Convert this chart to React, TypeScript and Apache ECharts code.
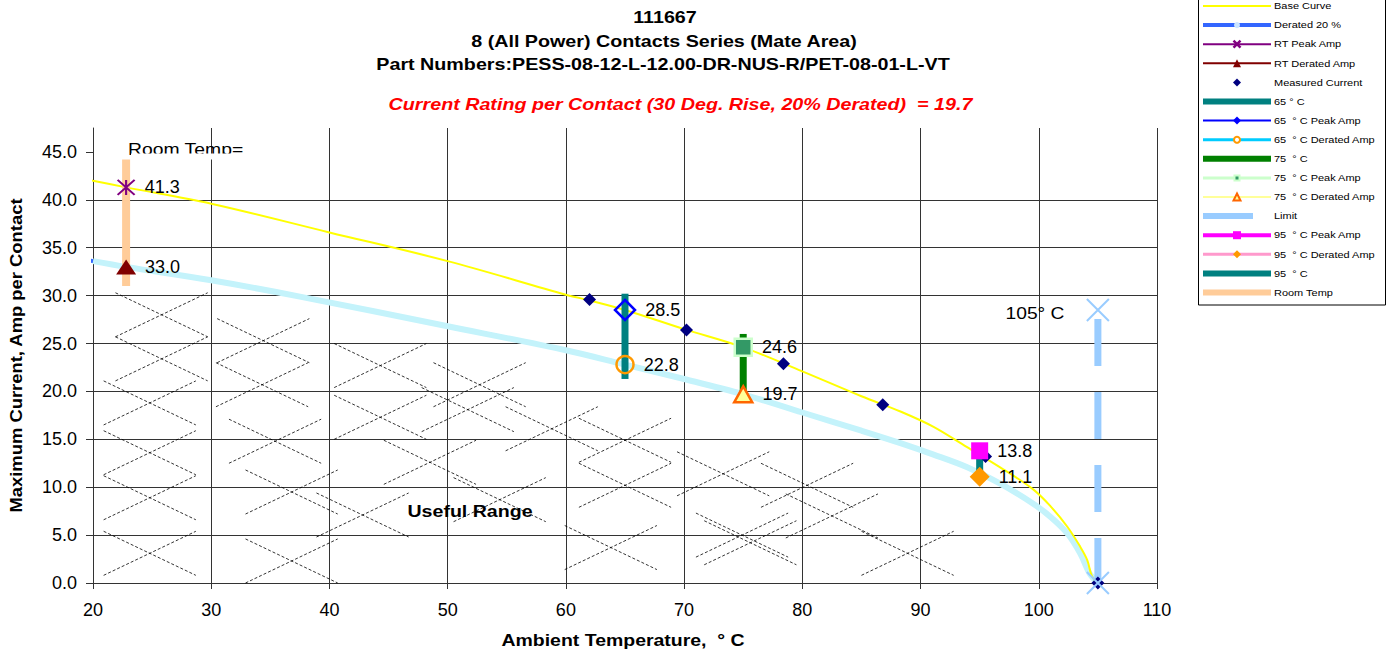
import React, { useEffect, useRef } from 'react';
import * as echarts from 'echarts';

// ---------- data ----------
const xTicks = [20, 30, 40, 50, 60, 70, 80, 90, 100, 110];
const yTicks = [0, 5, 10, 15, 20, 25, 30, 35, 40, 45];
const yTop = 47.5;

const baseTemps = [18.9, 20, 22.8, 30, 40, 50, 60, 62, 65, 70, 75, 80, 85, 88.3, 91.1, 93.9, 96.7, 99.5, 101, 102.4, 103.5, 104.1, 104.5, 105];
const baseAmps = [42.3, 42.0, 41.3, 39.6, 36.6, 33.6, 30.1, 29.5, 28.5, 26.5, 24.6, 22.1, 19.5, 17.9, 16.3, 14.2, 12.1, 9.8, 8.0, 5.9, 3.8, 2.4, 0.7, 0];

const deratedTemps = [18.9, 20, 22.8, 30, 37.5, 50, 60, 65, 70, 75, 80, 85, 88.3, 91.1, 93.9, 96.7, 99.5, 101, 102.4, 103.5, 104.3, 105];
const deratedAmps = [33.8, 33.6, 33.0, 31.6, 29.9, 26.8, 24.3, 22.8, 21.3, 19.7, 17.8, 15.9, 14.6, 13.4, 12.1, 10.4, 8.3, 6.9, 5.2, 3.1, 1.0, 0];

const measuredTemps = [62.0, 70.2, 78.4, 86.8, 95.5, 105];
const measuredAmps = [29.6, 26.4, 22.9, 18.6, 13.2, 0];

const roomTemp = 22.8;
const rtPeakAmp = 41.3;
const rtDeratedAmp = 33.0;
const roomTempBar = [31.0, 44.2];

const t65 = 65;
const peak65 = 28.5;
const derated65 = 22.8;
const bar65 = [21.3, 30.2];

const t75 = 75;
const peak75 = 24.6;
const derated75 = 19.7;
const bar75 = [19.7, 26.0];

const t95 = 95;
const peak95 = 13.8;
const derated95 = 11.1;
const bar95 = [11.1, 13.8];

const limitTemp = 105;
const limitAmps = [28.5, 0];

// centres of the dashed "X" hatch marks (°C, A)
const hatchTemps = [25.8, 25.8, 24.8, 24.8, 24.8, 24.8, 34.4, 34.3, 35.4, 36.8, 36.8, 42.8, 44.3, 44.3, 48.5, 52.7, 51.7, 58.8, 65.0, 65.0, 73.3, 80.4, 74.9, 63.8, 75.6, 82.5, 88.9, 54.4];
const hatchAmps = [28.0, 23.4, 18.8, 13.6, 8.9, 3.1, 25.3, 20.7, 14.8, 9.5, 2.3, 7.1, 22.7, 17.3, 12.6, 20.7, 18.1, 16.1, 14.9, 10.2, 11.4, 10.2, 5.0, 3.7, 4.2, 7.0, 3.1, 8.7];

const legendItems = [
  { name: 'Base Curve', color: '#ffff00', width: 2 },
  { name: 'Derated 20 %', color: '#3366ff', width: 4, marker: { type: 'circle', size: 3, fill: '#cce6ff' } },
  { name: 'RT Peak Amp', color: '#800080', width: 2, marker: { type: 'star', size: 7, stroke: '#800080' } },
  { name: 'RT Derated Amp', color: '#800000', width: 2, marker: { type: 'triangle', size: 8, fill: '#800000' } },
  { name: 'Measured Current', color: '', width: 0, marker: { type: 'diamond', size: 8, fill: '#000080' } },
  { name: '65 ° C', color: '#008080', width: 6 },
  { name: '65  ° C Peak Amp', color: '#0000ff', width: 2, marker: { type: 'diamond', size: 8, fill: '#0000ff' } },
  { name: '65  ° C Derated Amp', color: '#00ccff', width: 3, marker: { type: 'circle', size: 3, fill: '#ffffff', stroke: '#ff9900' } },
  { name: '75  ° C', color: '#008000', width: 6 },
  { name: '75  ° C Peak Amp', color: '#ccffcc', width: 3, marker: { type: 'square', size: 5, fill: '#339966', stroke: '#ccffcc' } },
  { name: '75  ° C Derated Amp', color: '#ffff99', width: 2, marker: { type: 'triangle', size: 7, fill: '#ffff99', stroke: '#ff6600' } },
  { name: 'Limit', color: '#99ccff', width: 6, short: true },
  { name: '95  ° C Peak Amp', color: '#ff00ff', width: 4, marker: { type: 'square', size: 8, fill: '#ff00ff' } },
  { name: '95  ° C Derated Amp', color: '#ff99cc', width: 3, marker: { type: 'diamond', size: 8, fill: '#ff9900' } },
  { name: '95  ° C', color: '#008080', width: 6 },
  { name: 'Room Temp', color: '#ffcc99', width: 6 },
];

// ---------- helpers ----------
const FONT = 'Arial, "Liberation Sans", sans-serif';
const STRETCH = 1.18;
const pts = (ts: number[], as: number[]) => ts.map((t, i) => [t, as[i]]);
const vbar = (t: number, r: number[]) => r.map((a) => [t, a]);

const valueLabel = {
  show: true,
  position: 'right',
  distance: 9,
  fontSize: 18,
  fontFamily: FONT,
  color: '#000',
  formatter: (p: any) => Number(p.value[1]).toFixed(1),
};

const X_PATH = 'path://M0,0L20,20M20,0L0,20';
const STAR_PATH = 'path://M0,0L20,20M20,0L0,20M10,0L10,20';

function barSeries(data: number[][], color: string, width: number, extra: any = {}) {
  return {
    type: 'line',
    data,
    symbol: 'none',
    silent: true,
    lineStyle: { color, width, cap: 'butt', ...extra },
    z: 4,
  };
}

function markerSeries(t: number, a: number, symbol: string, size: any, itemStyle: any, label = true) {
  return {
    type: 'scatter',
    data: [[t, a]],
    symbol,
    symbolSize: size,
    itemStyle: { opacity: 1, ...itemStyle },
    label: label ? valueLabel : { show: false },
    silent: true,
    z: 6,
  };
}

function curveSeries(data: number[][], color: string, width: number, z: number) {
  return {
    type: 'line',
    data,
    symbol: 'none',
    smooth: 0.35,
    clip: false,
    silent: true,
    lineStyle: { color, width },
    z,
  };
}

function text(str: string, x: number, y: number, size: number, opts: any = {}) {
  return {
    type: 'text',
    x,
    y,
    scaleX: opts.scaleX ?? STRETCH,
    rotation: opts.rotation ?? 0,
    z: opts.z ?? 10,
    style: {
      text: str,
      fontSize: size,
      fontFamily: FONT,
      fontWeight: opts.bold ? 'bold' : 'normal',
      fontStyle: opts.italic ? 'italic' : 'normal',
      fill: opts.color ?? '#000',
      align: opts.align ?? 'center',
      textAlign: opts.align ?? 'center',
      verticalAlign: 'middle',
      textVerticalAlign: 'middle',
    },
  };
}

function legendGraphic() {
  const els: any[] = [];
  els.push({
    type: 'rect',
    z: 20,
    shape: { x: 1198.5, y: -10, width: 187, height: 315 },
    style: { fill: '#fff', stroke: '#000', lineWidth: 1 },
  });
  const x0 = 1203, x1 = 1271, cx = 1237, tx = 1274;
  legendItems.forEach((it, i) => {
    const y = 6 + i * 19.1;
    if (it.width > 0) {
      els.push({
        type: 'line',
        z: 21,
        shape: { x1: x0, y1: y, x2: (it as any).short ? 1253 : x1, y2: y },
        style: { stroke: it.color, lineWidth: it.width },
      });
    }
    const m: any = (it as any).marker;
    if (m) {
      const s = m.size;
      const st = { fill: m.fill ?? 'none', stroke: m.stroke ?? null, lineWidth: m.stroke ? 2 : 0 };
      if (m.type === 'circle') {
        els.push({ type: 'circle', z: 22, shape: { cx, cy: y, r: s }, style: st });
      } else if (m.type === 'triangle') {
        els.push({ type: 'polygon', z: 22, shape: { points: [[cx, y - s / 2], [cx + s / 2, y + s / 2], [cx - s / 2, y + s / 2]] }, style: st });
      } else if (m.type === 'diamond') {
        els.push({ type: 'polygon', z: 22, shape: { points: [[cx, y - s / 2], [cx + s / 2, y], [cx, y + s / 2], [cx - s / 2, y]] }, style: st });
      } else if (m.type === 'square') {
        els.push({ type: 'rect', z: 22, shape: { x: cx - s / 2, y: y - s / 2, width: s, height: s }, style: st });
      } else if (m.type === 'star') {
        const h = s / 2;
        const ls = { stroke: m.stroke, lineWidth: 2.5 };
        els.push({ type: 'line', z: 22, shape: { x1: cx - h, y1: y - h, x2: cx + h, y2: y + h }, style: ls });
        els.push({ type: 'line', z: 22, shape: { x1: cx - h, y1: y + h, x2: cx + h, y2: y - h }, style: ls });
      }
    }
    els.push(text(it.name, tx, y, 9.3, { align: 'left', z: 22 }));
  });
  return els;
}

const HW = 3.9; // half width of a hatch X, °C
const HH = 2.3; // half height of a hatch X, A

const option: any = {
  animation: false,
  backgroundColor: '#ffffff',
  grid: { left: 93, top: 128, width: 1064, height: 455 },
  xAxis: {
    type: 'value',
    min: xTicks[0],
    max: xTicks[xTicks.length - 1],
    interval: 10,
    axisLine: { show: true, onZero: false, lineStyle: { color: '#333', width: 1 } },
    axisTick: { show: true, length: 6, lineStyle: { color: '#333' } },
    axisLabel: { fontSize: 18, fontFamily: FONT, color: '#000', margin: 18 },
    splitLine: { show: true, lineStyle: { color: '#333', width: 1 } },
  },
  yAxis: {
    type: 'value',
    min: yTicks[0],
    max: yTop,
    interval: 5,
    axisLine: { show: true, onZero: false, lineStyle: { color: '#333', width: 1 } },
    axisTick: { show: true, length: 7, lineStyle: { color: '#333' }, customValues: yTicks },
    axisLabel: {
      fontSize: 18,
      fontFamily: FONT,
      color: '#000',
      margin: 16,
      showMaxLabel: false,
      formatter: (v: number) => (v > yTicks[yTicks.length - 1] ? '' : v.toFixed(1)),
    },
    splitLine: { show: true, showMaxLine: false, lineStyle: { color: '#333', width: 1 } },
  },
  series: [
    {
      type: 'custom',
      silent: true,
      z: 1,
      data: pts(hatchTemps, hatchAmps),
      renderItem: (params: any, api: any) => {
        const t = api.value(0);
        const a = api.value(1);
        const p1 = api.coord([t - HW, a + HH]);
        const p2 = api.coord([t + HW, a - HH]);
        const p3 = api.coord([t - HW, a - HH]);
        const p4 = api.coord([t + HW, a + HH]);
        const style = { stroke: '#000', lineWidth: 0.8, lineDash: [3, 2], fill: null };
        return {
          type: 'group',
          children: [
            { type: 'line', shape: { x1: p1[0], y1: p1[1], x2: p2[0], y2: p2[1] }, style },
            { type: 'line', shape: { x1: p3[0], y1: p3[1], x2: p4[0], y2: p4[1] }, style },
          ],
        };
      },
    },
    // Room temp bar
    barSeries(vbar(roomTemp, roomTempBar), '#ffcc99', 8),
    // Derated 20 % (blue)
    curveSeries(pts(deratedTemps, deratedAmps), '#3366ff', 4, 2),
    // 65 °C derated curve (cyan)
    curveSeries(pts(deratedTemps.slice(1), deratedAmps.slice(1)), '#c4f3fb', 6, 3),
    // Base curve
    curveSeries(pts(baseTemps, baseAmps), '#ffff00', 2, 3),
    barSeries(vbar(t65, bar65), '#008080', 7),
    barSeries(vbar(t75, bar75), '#008000', 7),
    barSeries(vbar(t95, bar95), '#008080', 7),
    barSeries(vbar(limitTemp, limitAmps), '#99ccff', 7, { type: [47, 26], dashOffset: 64 }),
    // Measured current
    {
      type: 'scatter',
      data: pts(measuredTemps, measuredAmps),
      symbol: 'diamond',
      symbolSize: 13,
      itemStyle: { color: '#000080', opacity: 1 },
      silent: true,
      z: 5,
    },
    markerSeries(roomTemp, rtPeakAmp, STAR_PATH, [17, 15], { color: 'transparent', borderColor: '#800080', borderWidth: 2 }),
    markerSeries(roomTemp, rtDeratedAmp, 'triangle', [20, 15], { color: '#800000' }),
    markerSeries(t65, peak65, 'diamond', 20, { color: 'transparent', borderColor: '#0000ff', borderWidth: 2.5 }),
    markerSeries(t65, derated65, 'circle', 17, { color: 'transparent', borderColor: '#ff9900', borderWidth: 2.5 }),
    markerSeries(t75, peak75, 'rect', 17, { color: '#339966', borderColor: '#ccffcc', borderWidth: 2.5 }),
    markerSeries(t75, derated75, 'triangle', [18, 16], { color: '#ffff99', borderColor: '#ff6600', borderWidth: 2.5 }),
    markerSeries(t95, peak95, 'rect', 17, { color: '#ff00ff' }),
    markerSeries(t95, derated95, 'diamond', 20, { color: '#ff9900' }),
    // Limit X marks
    {
      type: 'scatter',
      data: vbar(limitTemp, limitAmps),
      symbol: X_PATH,
      symbolSize: 22,
      itemStyle: { color: 'transparent', borderColor: '#99ccff', borderWidth: 2, opacity: 1 },
      silent: true,
      z: 7,
    },
  ],
  graphic: [
    text('111667', 665, 17, 16.7, { bold: true }),
    text('8 (All Power) Contacts Series (Mate Area)', 664, 41, 16.7, { bold: true }),
    text('Part Numbers:PESS-08-12-L-12.00-DR-NUS-R/PET-08-01-L-VT', 663, 64, 16.7, { bold: true }),
    text('Current Rating per Contact (30 Deg. Rise, 20% Derated)  = 19.7', 680.5, 104, 16.7, { bold: true, italic: true, color: '#ff0000' }),
    text('Ambient Temperature,  ° C', 623, 641, 16.5, { bold: true }),
    text('Maximum Current, Amp per Contact', 17, 355.5, 15.6, { bold: true, rotation: Math.PI / 2 }),
    text('Useful Range', 470, 512, 16.6, { bold: true }),
    text('105° C', 1035, 314, 16.3),
    text('Room Temp=', 128, 150, 16.4, { align: 'left' }),
    { type: 'rect', z: 11, shape: { x: 131, y: 153.5, width: 125, height: 6 }, style: { fill: '#fff' } },
    ...legendGraphic(),
  ],
};

export default function App() {
  const ref = useRef<HTMLDivElement>(null);
  useEffect(() => {
    if (!ref.current) return;
    const chart = echarts.init(ref.current, null, { renderer: 'svg' });
    chart.setOption(option);
    return () => chart.dispose();
  }, []);
  return (
    <div
      ref={ref}
      style={{ position: 'absolute', left: 0, top: 0, width: 1394, height: 656, background: '#fff' }}
    />
  );
}
